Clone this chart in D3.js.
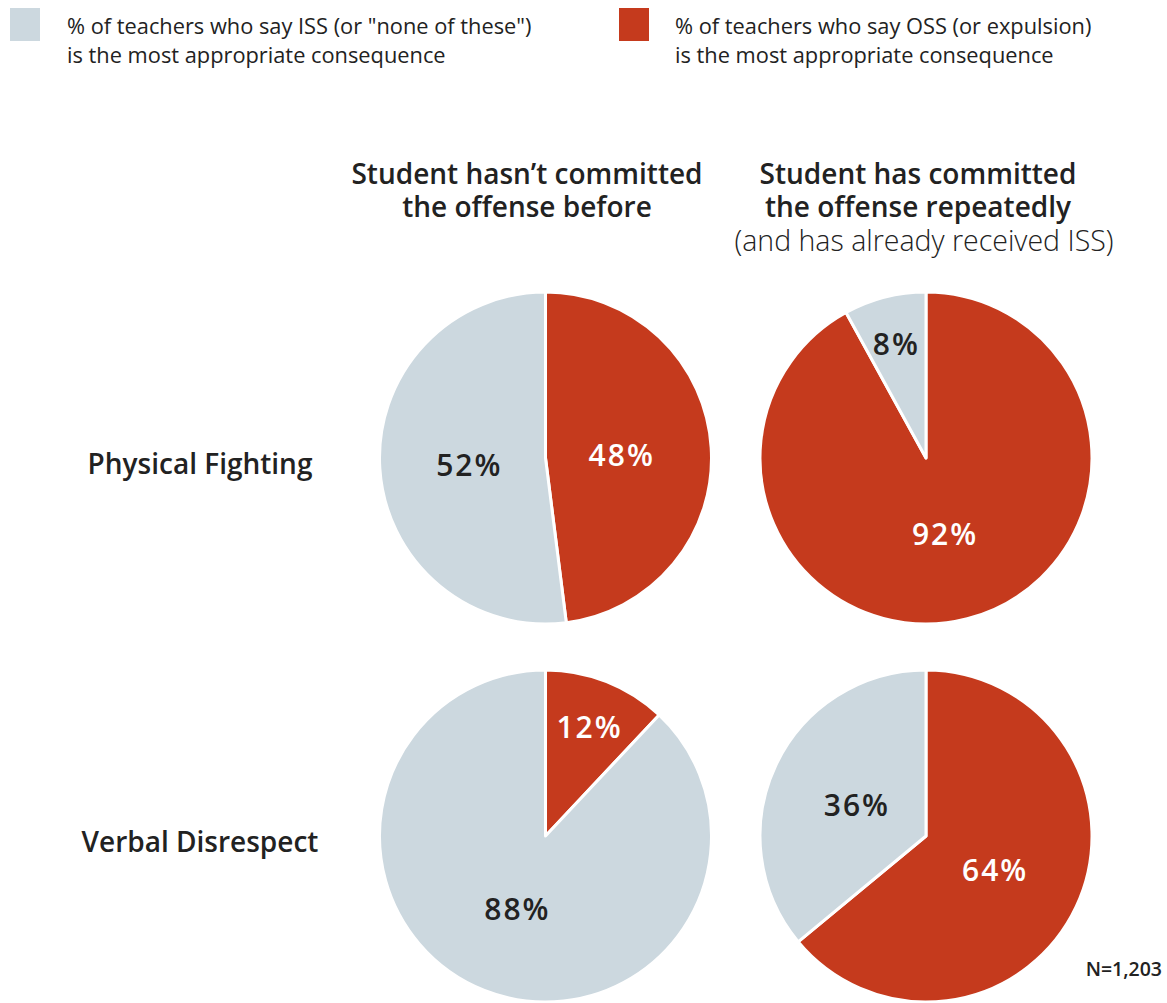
<!DOCTYPE html>
<html><head><meta charset="utf-8">
<script src="https://cdn.jsdelivr.net/npm/d3@7"></script>
<style>body{margin:0;background:#fff}svg{display:block}text{font-family:"Open Sans",Lato,sans-serif}</style>
</head><body>
<svg id="c" width="1167" height="1003"></svg>
<script>
const series = ["OSS", "ISS"];
const legendLines = [
  ["% of teachers who say ISS (or \"none of these\")", "is the most appropriate consequence"],
  ["% of teachers who say OSS (or expulsion)", "is the most appropriate consequence"]
];
const rows = ["Physical Fighting", "Verbal Disrespect"];
const columns = ["first", "repeat"];
// OSS share, ISS share per row x column
const ossValues = [[48, 92], [12, 64]];
const issValues = [[52, 8], [88, 36]];
const colTitles = [["Student hasn\u2019t committed", "the offense before"], ["Student has committed", "the offense repeatedly"]];
const colSubtitle = "(and has already received ISS)";
const note = "N=1,203";

const colors = {OSS: "#c53a1d", ISS: "#ccd8df"};
const svg = d3.select("#c");

// legend
const legX = [10, 619], legTextX = [67, 675];
[["ISS", 0], ["OSS", 1]].forEach(([k, i]) => {
  svg.append("rect").attr("x", legX[i]).attr("y", 8).attr("width", 30).attr("height", 33).attr("fill", colors[k]);
  const t = svg.append("text").attr("x", legTextX[i]).attr("y", 34).attr("font-size", 21.8).attr("fill", "#222");
  legendLines[i].forEach((l, j) => t.append("tspan").attr("x", legTextX[i]).attr("dy", j ? 29 : 0).text(l));
});

const x = d3.scalePoint().domain(columns).range([545.5, 926]);
const y = d3.scalePoint().domain(rows).range([458, 836]);
const R = 166;
const titleX = [527, 918];

// column titles
columns.forEach((c, i) => {
  const t = svg.append("text").attr("text-anchor", "middle").attr("font-size", 28).attr("font-weight", 600).attr("fill", "#222").attr("y", 184);
  colTitles[i].forEach((l, j) => t.append("tspan").attr("x", titleX[i]).attr("dy", j ? 33 : 0).text(l));
});
svg.append("text").attr("x", 924).attr("y", 251).attr("text-anchor", "middle").attr("font-size", 28.5).attr("font-weight", 300).attr("fill", "#222").text(colSubtitle);

// row labels
rows.forEach(r => {
  svg.append("text").attr("x", 200).attr("y", y(r) + 16).attr("text-anchor", "middle").attr("font-size", 28).attr("font-weight", 600).attr("fill", "#222").text(r);
});

const pie = d3.pie().sort(null).value(d => d.v);
const arc = d3.arc().innerRadius(0).outerRadius(R);
rows.forEach((r, ri) => columns.forEach((c, ci) => {
  const data = [{k: "OSS", v: ossValues[ri][ci]}, {k: "ISS", v: issValues[ri][ci]}];
  const g = svg.append("g").attr("transform", `translate(${x(c)},${y(r)})`);
  const arcs = pie(data);
  g.selectAll("path").data(arcs).join("path").attr("d", arc).attr("fill", d => colors[d.data.k])
    .attr("stroke", "#fff").attr("stroke-width", 3).attr("stroke-linejoin", "round");
  g.selectAll("text").data(arcs).join("text")
    .attr("transform", d => {
      const lr = d.data.v < 15 ? 0.72 * R : 0.46 * R;
      const a = (d.startAngle + d.endAngle) / 2;
      return `translate(${Math.sin(a) * lr},${-Math.cos(a) * lr + 2})`;
    })
    .attr("text-anchor", "middle").attr("dy", "0.36em").attr("font-size", 30).attr("font-weight", 600)
    .attr("letter-spacing", 2)
    .attr("fill", d => d.data.k === "OSS" ? "#fff" : "#222").text(d => d.data.v + "%");
}));

svg.append("text").attr("x", 1162).attr("y", 976).attr("text-anchor", "end").attr("font-size", 19.5).attr("font-weight", 600).attr("fill", "#222").text(note);
</script>
</body></html>
